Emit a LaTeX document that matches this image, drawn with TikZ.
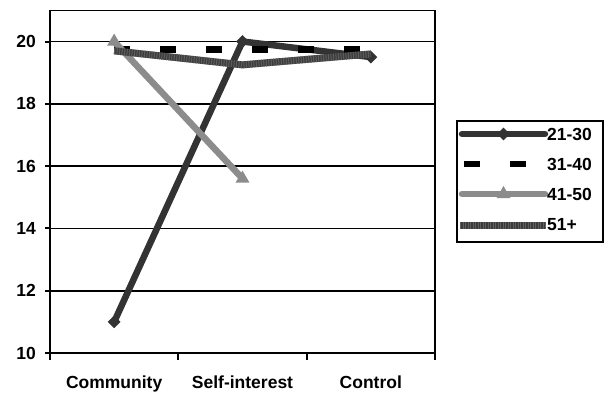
\documentclass[tikz,border=0pt]{standalone}
\usepackage{fontspec}
\setmainfont{Liberation Sans}
\usepackage{tikz}
\usetikzlibrary{shapes.geometric,calc}

\definecolor{serA}{HTML}{333333}
\definecolor{serC}{HTML}{8C8C8C}
\definecolor{serD}{HTML}{3C3C3C}
\definecolor{serDstripe}{HTML}{5E5E5E}

\tikzset{
  gridline/.style={black,line width=1.6pt},
  axisline/.style={black,line width=2pt},
  ylab/.style={anchor=east,inner sep=0pt},
  xlab/.style={anchor=base,inner sep=0pt},
  lineA/.style={serA,line width=6.5pt},
  lineB/.style={black,line width=6.5pt,dash pattern=on 16pt off 30pt},
  lineC/.style={serC,line width=6.5pt},
  lineD/.style={serD,line width=7pt},
  stripeD/.style={serDstripe,line width=7pt,dash pattern=on 1pt off 1.5pt},
  diamondmark/.style={rectangle,fill=serA,minimum size=9pt,inner sep=0pt,rotate=45},
  trianglemark/.style={regular polygon,regular polygon sides=3,fill=serC,minimum size=16pt,inner sep=0pt},
  legendbox/.style={draw=black,line width=1.6pt,minimum width=146pt,minimum height=121pt,inner sep=0pt},
  legtext/.style={anchor=west,inner sep=0pt}
}

\begin{document}
\begin{tikzpicture}[x=1pt,y=1pt,font=\fontsize{17.5}{20}\selectfont\bfseries]
\useasboundingbox (0,0) rectangle (605,392);

\begin{scope}[x=128.33pt,y=31.15pt,shift={(50pt,-272.5pt)}]
% grid and frame
\foreach \v in {12,14,...,20}
  \draw[gridline] (0,\v) -- (3,\v);
\draw[gridline] (0,21) -- (3,21) -- (3,10);
\draw[axisline] (0,21) -- (0,10) -- (3,10);
% ticks and labels
\foreach \v in {10,12,...,20} {
  \draw[axisline] (0,\v) -- ++(-5pt,0);
  \node[ylab] (y\v) at ([xshift=-14pt]0,\v) {\v};
}
\foreach \i in {0,1,2,3}
  \draw[axisline] (\i,10) -- ++(0,-7pt);
\node[xlab] (cat1) at ([yshift=-35pt]0.5,10) {Community};
\node[xlab] (cat2) at ([yshift=-35pt]1.5,10) {Self-interest};
\node[xlab] (cat3) at ([yshift=-35pt]2.5,10) {Control};

% data points
\coordinate (a1) at (0.5,11);
\coordinate (a2) at (1.5,20);
\coordinate (a3) at (2.5,19.5);
\coordinate (b1) at (0.5,19.75);
\coordinate (b3) at (2.5,19.75);
\coordinate (c1) at (0.5,20);
\coordinate (c2) at (1.5,15.6);
\coordinate (d1) at (0.5,19.7);
\coordinate (d2) at (1.5,19.25);
\coordinate (d3) at (2.5,19.6);

% 21-30
\draw[lineA] (a1) -- (a2) -- (a3);
\foreach \p in {a1,a2,a3}
  \node[diamondmark] at (\p) {};
% 31-40
\draw[lineB] (b1) -- (b3);
% 41-50
\draw[lineC] (c1) -- (c2);
\foreach \p in {c1,c2}
  \node[trianglemark] at (\p) {};
% 51+
\draw[lineD] (d1) -- (d2) -- (d3);
\draw[stripeD] (d1) -- (d2) -- (d3);
\end{scope}

% legend
\node[legendbox] (legend) at (530,210.5) {};
\coordinate (la1) at (462,258);
\coordinate (la2) at (545,258);
\coordinate (lb1) at (464,228);
\coordinate (lb2) at (545,228);
\coordinate (lc1) at (462,198);
\coordinate (lc2) at (545,198);
\coordinate (ld1) at (460,167);
\coordinate (ld2) at (546,167);
\draw[serA,line width=6.5pt,line cap=round] (la1) -- (la2);
\node[diamondmark] (legA) at ($(la1)!0.5!(la2)$) {};
\draw[lineB] (lb1) -- (lb2);
\draw[serC,line width=6.5pt,line cap=round] (lc1) -- (lc2);
\node[trianglemark] (legC) at ($(lc1)!0.5!(lc2)$) {};
\draw[lineD] (ld1) -- (ld2);
\draw[stripeD] (ld1) -- (ld2);
\node[legtext] (tA) at (547,258) {21-30};
\node[legtext] (tB) at (547,228) {31-40};
\node[legtext] (tC) at (547,198) {41-50};
\node[legtext] (tD) at (547,167) {51+};
\end{tikzpicture}
\end{document}
